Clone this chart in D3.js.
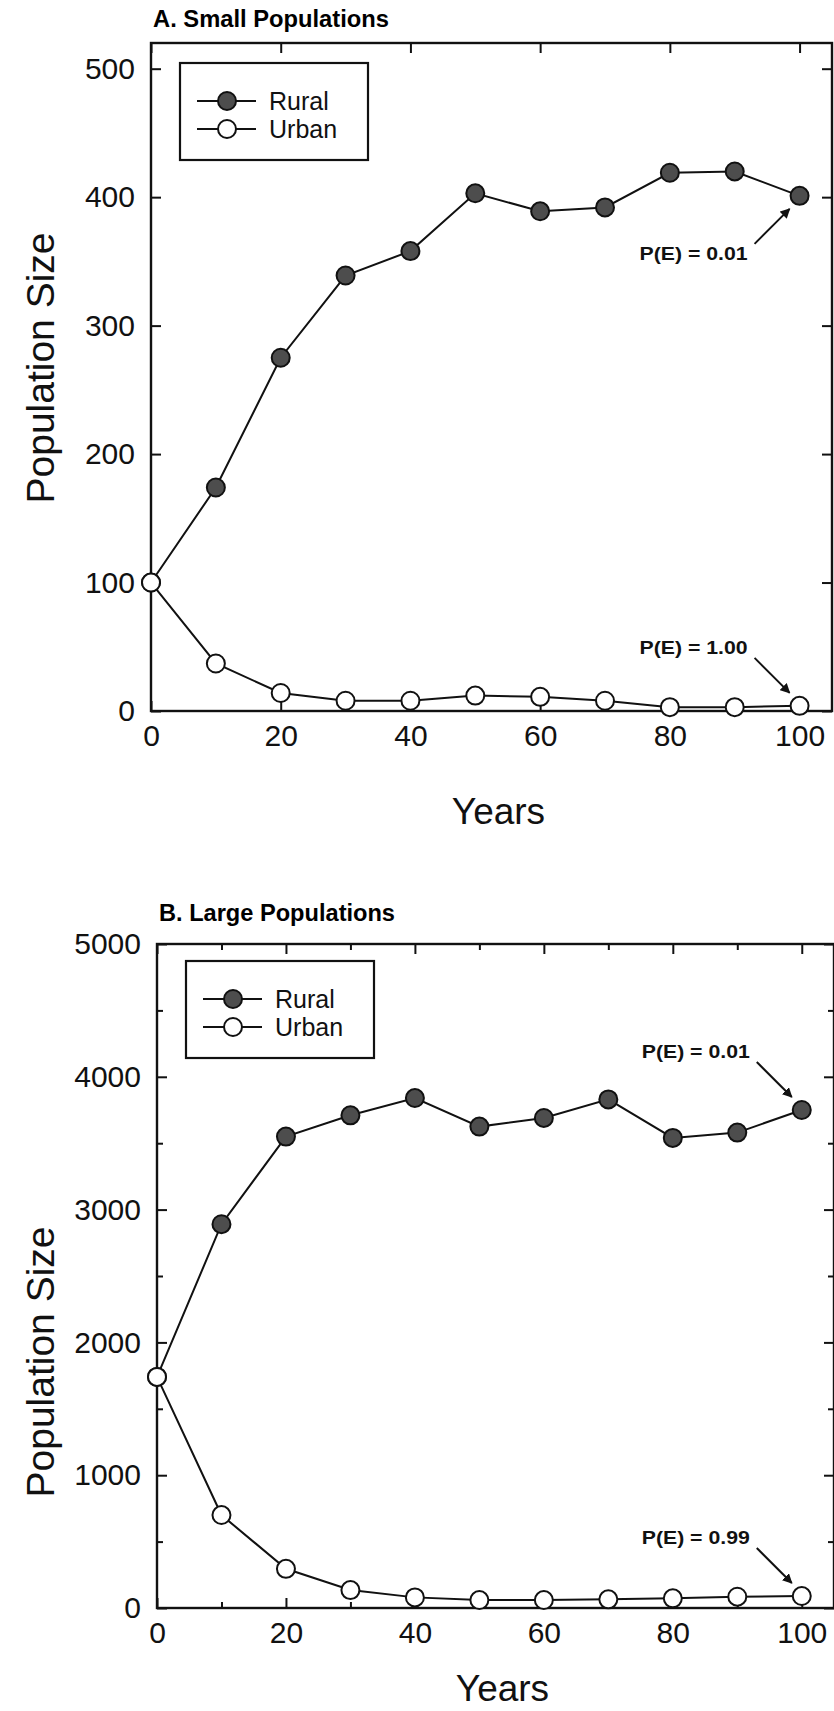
<!DOCTYPE html>
<html>
<head>
<meta charset="utf-8">
<script src="https://cdn.jsdelivr.net/npm/d3@7"></script>
<style>
  body { margin: 0; background: #ffffff; }
  svg { display: block; font-family: "Liberation Sans", Arial, sans-serif; }
</style>
</head>
<body>
<div id="chart"></div>
<script>

// ------------------------------- DATA ------------------------------------
var years = [0, 10, 20, 30, 40, 50, 60, 70, 80, 90, 100];

var ruralSmall = [100, 174, 275, 339, 358, 403, 389, 392, 419, 420, 401];
var urbanSmall = [100, 37, 14, 8, 8, 12, 11, 8, 3, 3, 4];

var ruralLarge = [1740, 2890, 3550, 3710, 3840, 3625, 3690, 3830, 3540, 3580, 3750];
var urbanLarge = [1740, 700, 295, 135, 80, 60, 60, 65, 73, 85, 90];

var seriesNames = ["Rural", "Urban"];
var panelTitles = ["A. Small Populations", "B. Large Populations"];

var xTicks = [0, 20, 40, 60, 80, 100];
var xMinorTicks = [10, 30, 50, 70, 90];
var yTicksSmall = [0, 100, 200, 300, 400, 500];
var yTicksLarge = [0, 1000, 2000, 3000, 4000, 5000];
var yMinorLarge = [500, 1500, 2500, 3500, 4500];

var peSmall = ["P(E) = 0.01", "P(E) = 1.00"];
var peLarge = ["P(E) = 0.01", "P(E) = 0.99"];

var xLabel = "Years";
var yLabel = "Population Size";

// ------------------------------- SVG ------------------------------------
var svg = d3.select("#chart").append("svg")
    .attr("width", 834).attr("height", 1711);

svg.append("rect").attr("width", 834).attr("height", 1711).attr("fill", "#ffffff");

var defs = svg.append("defs");
defs.append("marker")
    .attr("id", "arrowhead")
    .attr("viewBox", "0 0 10 10")
    .attr("refX", 9).attr("refY", 5)
    .attr("markerWidth", 5).attr("markerHeight", 5)
    .attr("orient", "auto")
    .append("path").attr("d", "M0,0 L10,5 L0,10 z").attr("fill", "#111");

// panel A
drawPanel({
    left: 151, right: 832, top: 43, bottom: 711,
    yMax: 520, yTicks: yTicksSmall, yMinor: [], xMinor: [],
    rural: ruralSmall, urban: urbanSmall,
    title: panelTitles[0], titleBase: 27, pe: peSmall,
    peSide: ["below", "above"],
    legendTop: 63, yLabelCenter: 368, xLabelBase: 824
});

// panel B
drawPanel({
    left: 157, right: 834, top: 944, bottom: 1608,
    yMax: 5000, yTicks: yTicksLarge, yMinor: yMinorLarge, xMinor: xMinorTicks,
    rural: ruralLarge, urban: urbanLarge,
    title: panelTitles[1], titleBase: 921, pe: peLarge,
    peSide: ["above", "above"],
    legendTop: 961, yLabelCenter: 1362, xLabelBase: 1701
});


function drawPanel(p) {

    //------------------------------- SCALES ------------------------------------
    var x = d3.scaleLinear().domain([0, 105]).range([p.left, p.right]);
    var y = d3.scaleLinear().domain([0, p.yMax]).range([p.bottom, p.top]);

    var g = svg.append("g");

    // title
    g.append("text")
        .attr("x", p.left + 2).attr("y", p.titleBase)
        .attr("textLength", 236).attr("lengthAdjust", "spacingAndGlyphs")
        .style("font-size", "23px").style("font-weight", "bold")
        .text(p.title);

    // -------------------- axes (ticks inward) --------------------------
    var bottomAxis = d3.axisBottom(x).tickValues(xTicks).tickSize(-10).tickPadding(14).tickFormat(d3.format("d"));
    var topAxis = d3.axisTop(x).tickValues(xTicks).tickSize(-10).tickFormat("");
    var leftAxis = d3.axisLeft(y).tickValues(p.yTicks).tickSize(-10).tickPadding(16).tickFormat(d3.format("d"));
    var rightAxis = d3.axisRight(y).tickValues(p.yTicks).tickSize(-10).tickFormat("");

    var axes = [
        g.append("g").attr("transform", `translate(0,${p.bottom})`).call(bottomAxis),
        g.append("g").attr("transform", `translate(0,${p.top})`).call(topAxis),
        g.append("g").attr("transform", `translate(${p.left},0)`).call(leftAxis),
        g.append("g").attr("transform", `translate(${p.right},0)`).call(rightAxis)
    ];

    if (p.xMinor.length) {
        axes.push(g.append("g").attr("transform", `translate(0,${p.bottom})`)
            .call(d3.axisBottom(x).tickValues(p.xMinor).tickSize(-6).tickFormat("")));
        axes.push(g.append("g").attr("transform", `translate(0,${p.top})`)
            .call(d3.axisTop(x).tickValues(p.xMinor).tickSize(-6).tickFormat("")));
    }
    if (p.yMinor.length) {
        axes.push(g.append("g").attr("transform", `translate(${p.left},0)`)
            .call(d3.axisLeft(y).tickValues(p.yMinor).tickSize(-6).tickFormat("")));
        axes.push(g.append("g").attr("transform", `translate(${p.right},0)`)
            .call(d3.axisRight(y).tickValues(p.yMinor).tickSize(-6).tickFormat("")));
    }

    axes.forEach(a => {
        a.select(".domain").remove();
        a.selectAll("line").attr("stroke", "#111").attr("stroke-width", 2);
        a.selectAll("text")
            .attr("fill", "#111")
            .style("font-family", "'Liberation Sans', Arial, sans-serif")
            .style("font-size", "30px");
    });

    // frame
    g.append("rect")
        .attr("x", p.left).attr("y", p.top)
        .attr("width", p.right - p.left).attr("height", p.bottom - p.top)
        .attr("fill", "none").attr("stroke", "#111").attr("stroke-width", 2.4);

    // axis titles
    g.append("text")
        .attr("transform", `translate(40,${p.yLabelCenter}) rotate(-90)`)
        .attr("text-anchor", "middle").attr("dy", "0.35em")
        .style("font-size", "39px").attr("fill", "#111")
        .text(yLabel);

    g.append("text")
        .attr("x", (p.left + p.right) / 2 + 7).attr("y", p.xLabelBase)
        .attr("text-anchor", "middle")
        .style("font-size", "37px").attr("fill", "#111")
        .text(xLabel);

    // -------------------- lines + markers --------------------------
    var line = d3.line()
        .x((d, i) => x(years[i]))
        .y(d => y(d));

    var series = [
        { name: seriesNames[0], values: p.rural, fill: "#4d4d4d" },
        { name: seriesNames[1], values: p.urban, fill: "#ffffff" }
    ];

    series.forEach(s => {
        g.append("path")
            .datum(s.values)
            .attr("d", line)
            .attr("fill", "none")
            .attr("stroke", "#111")
            .attr("stroke-width", 2);
    });

    // rural drawn first so the shared start point shows the white urban circle
    series.forEach(s => {
        g.selectAll(null).data(s.values).enter()
            .append("circle")
            .attr("cx", (d, i) => x(years[i]))
            .attr("cy", d => y(d))
            .attr("r", 9)
            .attr("fill", s.fill)
            .attr("stroke", "#111")
            .attr("stroke-width", 2);
    });

    // -------------------- P(E) notes --------------------------
    series.forEach((s, k) => {
        var last = s.values.length - 1;
        var px = x(years[last]), py = y(s.values[last]);
        var sgn = p.peSide[k] === "below" ? 1 : -1;

        g.append("line")
            .attr("x1", px - 45).attr("y1", py + sgn * 48)
            .attr("x2", px - 10).attr("y2", py + sgn * 13)
            .attr("stroke", "#111").attr("stroke-width", 2)
            .attr("marker-end", "url(#arrowhead)");

        g.append("text")
            .attr("x", px - 106).attr("y", py + sgn * 58)
            .attr("text-anchor", "middle").attr("dy", "0.35em")
            .attr("textLength", 108).attr("lengthAdjust", "spacingAndGlyphs")
            .style("font-size", "18px").style("font-weight", "bold")
            .attr("fill", "#111")
            .text(p.pe[k]);
    });

    // -------------------- legend --------------------------
    var lg = g.append("g").attr("transform", `translate(${p.left + 29},${p.legendTop})`);
    lg.append("rect")
        .attr("width", 188).attr("height", 97)
        .attr("fill", "#ffffff").attr("stroke", "#111").attr("stroke-width", 2.2);

    series.forEach((s, k) => {
        var ly = 38 + k * 28;
        lg.append("line")
            .attr("x1", 17).attr("x2", 76).attr("y1", ly).attr("y2", ly)
            .attr("stroke", "#111").attr("stroke-width", 2);
        lg.append("circle")
            .attr("cx", 47).attr("cy", ly).attr("r", 9)
            .attr("fill", s.fill).attr("stroke", "#111").attr("stroke-width", 2);
        lg.append("text")
            .attr("x", 89).attr("y", ly).attr("dy", "0.36em")
            .style("font-size", "25px").attr("fill", "#111")
            .text(s.name);
    });
}

</script>
</body>
</html>
